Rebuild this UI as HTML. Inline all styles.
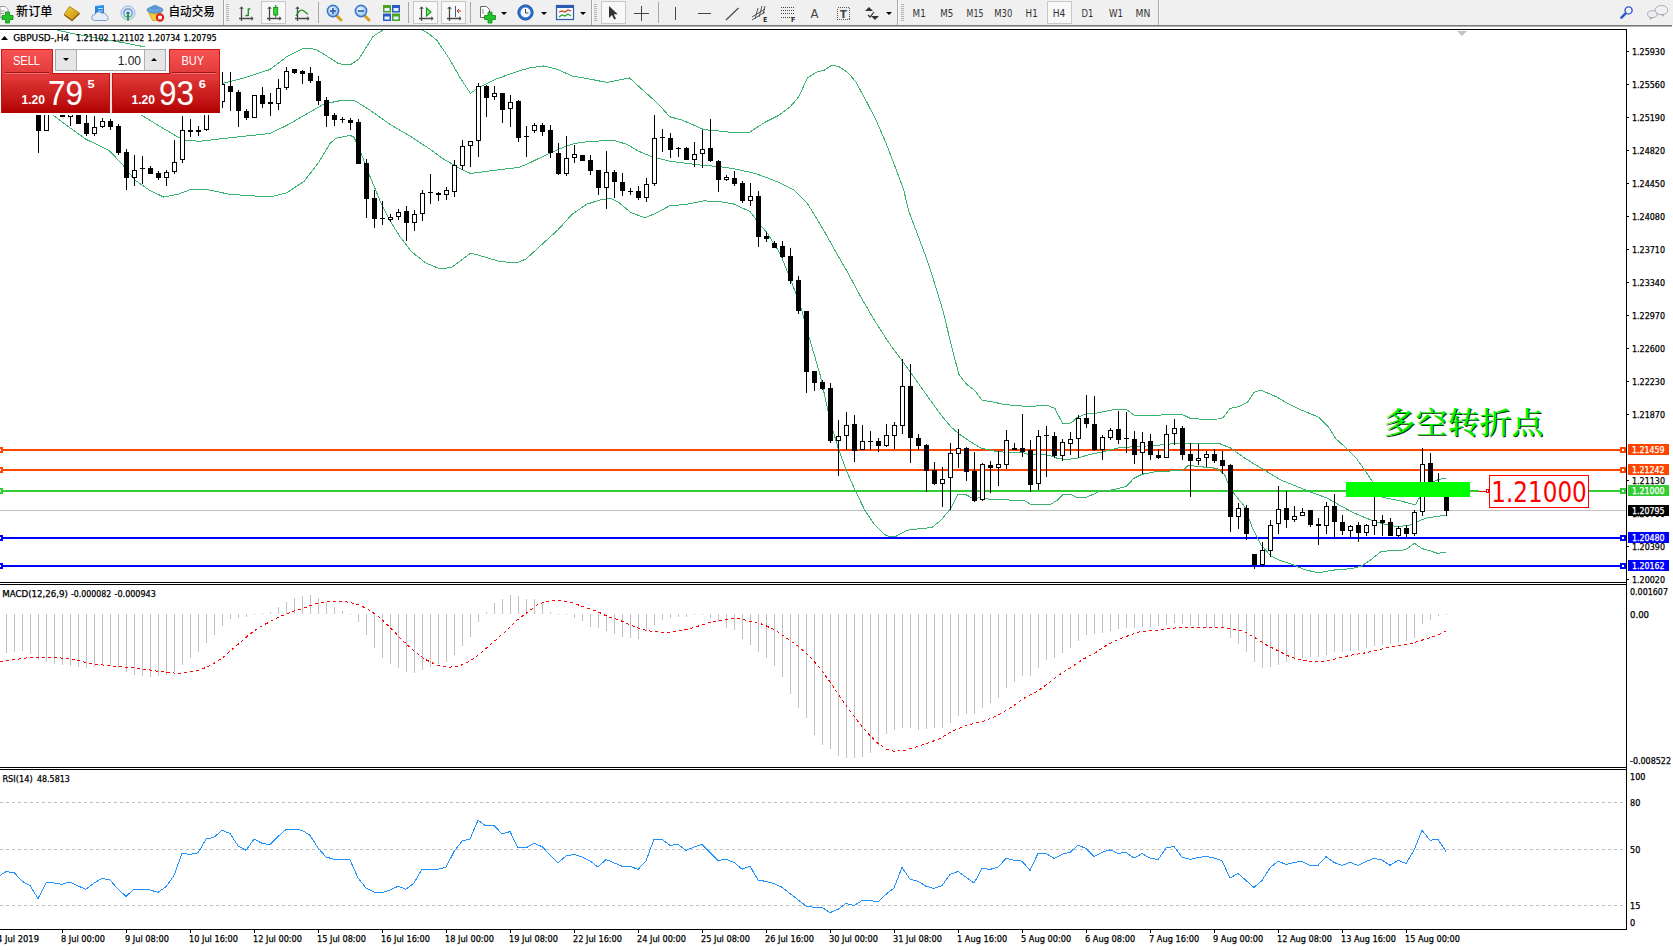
<!DOCTYPE html>
<html lang="zh"><head><meta charset="utf-8"><title>GBPUSD-,H4</title>
<style>html,body{margin:0;padding:0;background:#fff;overflow:hidden}body{width:1673px;height:950px;position:relative;font-family:"DejaVu Sans Condensed", "DejaVu Sans", "Liberation Sans", sans-serif}svg text{white-space:pre}</style>
</head><body>
<svg width="1673" height="950" viewBox="0 0 1673 950" font-family='"DejaVu Sans Condensed", "DejaVu Sans", "Liberation Sans", sans-serif' style="position:absolute;left:0;top:0;display:block">
<defs>
<linearGradient id="gT" x1="0" y1="0" x2="0" y2="1"><stop offset="0" stop-color="#f75252"/><stop offset="1" stop-color="#dc3434"/></linearGradient>
<linearGradient id="gT2" x1="0" y1="0" x2="0" y2="1"><stop offset="0" stop-color="#f75252"/><stop offset="0.8" stop-color="#e23a3a"/><stop offset="1" stop-color="#e03838"/></linearGradient>
<linearGradient id="gB" x1="0" y1="0" x2="0" y2="1"><stop offset="0" stop-color="#e23a3a"/><stop offset="0.75" stop-color="#c01212"/><stop offset="1" stop-color="#b00000"/></linearGradient>
<linearGradient id="gGold" x1="0" y1="0" x2="1" y2="1"><stop offset="0" stop-color="#f7d038"/><stop offset="1" stop-color="#c08a10"/></linearGradient>
<linearGradient id="gBlue" x1="0" y1="0" x2="0" y2="1"><stop offset="0" stop-color="#2f9bf0"/><stop offset="1" stop-color="#1668c8"/></linearGradient>
<radialGradient id="gLens" cx="0.4" cy="0.35" r="0.7"><stop offset="0" stop-color="#eaf4ff"/><stop offset="1" stop-color="#8fc0ee"/></radialGradient>
<clipPath id="cMain"><rect x="0" y="30" width="1626" height="552"/></clipPath>
</defs>
<rect x="0" y="0" width="1673" height="950" fill="#fff" />
<rect x="0" y="0" width="1673" height="25" fill="#f0f0f0" />
<rect x="0" y="25" width="1672" height="1" fill="#7a7a7a" />
<rect x="0" y="26" width="1672" height="1" fill="#b0b0b0" />
<path d="M0 6.5h5l3 3v8H0z" fill="#fdfdfd" stroke="#9a9a9a" stroke-width="1"/><path d="M0 11h5M0 13.5h4" stroke="#9a9a9a" stroke-width="1"/>
<path d="M5.5 12h4v3.5h3.5v4h-3.5v3.5h-4v-3.5h-3.5v-4h3.5z" fill="#22c42a" stroke="#0c8a14" stroke-width="0.8"/>
<text x="16" y="16" font-size="12" font-weight="500" fill="#000" font-family='"Liberation Sans", "Noto Sans CJK SC", "WenQuanYi Zen Hei", sans-serif' textLength="36.5" lengthAdjust="spacingAndGlyphs">新订单</text>
<path d="M69.5 6.5l10 6.5-7.5 7.5-8-6z" fill="url(#gGold)" stroke="#a87408" stroke-width="0.8"/><path d="M64.5 15l7.5 5.5 7.5-7" fill="none" stroke="#8a5c04" stroke-width="1.2"/>
<path d="M95 6l9-1v10h-9z" fill="url(#gBlue)"/><path d="M98 8.5h5M98 11h5" stroke="#bfe0ff" stroke-width="1"/>
<path d="M94.5 20.5a3 3 0 0 1 0.5-6a4 4 0 0 1 7-1.2a3.2 3.2 0 0 1 4.5 2.2a2.6 2.6 0 0 1-0.5 5z" fill="#e8eef8" stroke="#6f93c8" stroke-width="0.9"/>
<circle cx="128" cy="13" r="7" fill="#d6e6f4" stroke="#9fb9d6" stroke-width="1"/><circle cx="128" cy="13" r="4.2" fill="none" stroke="#5f8fc8" stroke-width="1.2"/><circle cx="128" cy="13" r="1.6" fill="#2a64c0"/><path d="M128 13v7.5" stroke="#28a428" stroke-width="2"/>
<ellipse cx="155" cy="10" rx="8" ry="3.2" fill="#6aa4dc" stroke="#3f78b8" stroke-width="0.8"/><path d="M150.5 9.5a4.5 4.5 0 0 1 9 0z" fill="#5b98d6"/><path d="M148.5 12.5c3 2 10 2 13 0l-4.5 8h-4.5z" fill="#f2cc3e" stroke="#c29a18" stroke-width="0.7"/>
<circle cx="160" cy="17.5" r="4.2" fill="#e02018"/><rect x="158.2" y="15.7" width="3.6" height="3.6" fill="#fff"/>
<text x="168.5" y="16" font-size="12" font-weight="500" fill="#000" font-family='"Liberation Sans", "Noto Sans CJK SC", "WenQuanYi Zen Hei", sans-serif' textLength="46.5" lengthAdjust="spacingAndGlyphs">自动交易</text>
<rect x="223" y="0" width="1" height="25" fill="#a8a8a8" shape-rendering="crispEdges"/><rect x="224" y="0" width="1" height="25" fill="#fafafa" shape-rendering="crispEdges"/>
<rect x="226" y="4" width="3" height="1" fill="#b4b4b4" shape-rendering="crispEdges"/>
<rect x="226" y="6" width="3" height="1" fill="#b4b4b4" shape-rendering="crispEdges"/>
<rect x="226" y="8" width="3" height="1" fill="#b4b4b4" shape-rendering="crispEdges"/>
<rect x="226" y="10" width="3" height="1" fill="#b4b4b4" shape-rendering="crispEdges"/>
<rect x="226" y="12" width="3" height="1" fill="#b4b4b4" shape-rendering="crispEdges"/>
<rect x="226" y="14" width="3" height="1" fill="#b4b4b4" shape-rendering="crispEdges"/>
<rect x="226" y="16" width="3" height="1" fill="#b4b4b4" shape-rendering="crispEdges"/>
<rect x="226" y="18" width="3" height="1" fill="#b4b4b4" shape-rendering="crispEdges"/>
<rect x="226" y="20" width="3" height="1" fill="#b4b4b4" shape-rendering="crispEdges"/>
<path d="M241.5 7V21M239 18.5H253" stroke="#4a4a4a" stroke-width="1.3" fill="none"/><path d="M239.8 9l1.7-2.2 1.7 2.2M251 16.8l2.2 1.7-2.2 1.7" stroke="#4a4a4a" stroke-width="1" fill="none"/>
<path d="M248.3 8.5v7.5M248.3 9h2M245.5 15.5h2.8" stroke="#1c8c1c" stroke-width="1.3" fill="none"/>
<rect x="261.5" y="1.5" width="24" height="22" fill="#f8f8f8" stroke="#c8c8c8" stroke-width="1"/>
<path d="M269.5 7V21M267 18.5H281" stroke="#4a4a4a" stroke-width="1.3" fill="none"/><path d="M267.8 9l1.7-2.2 1.7 2.2M279 16.8l2.2 1.7-2.2 1.7" stroke="#4a4a4a" stroke-width="1" fill="none"/>
<path d="M275.7 5v12.5" stroke="#1c8c1c" stroke-width="1.2"/><rect x="273.7" y="7.5" width="4" height="7.5" fill="#38d838" stroke="#0e8e0e" stroke-width="0.9"/>
<path d="M297.5 7V21M295 18.5H309" stroke="#4a4a4a" stroke-width="1.3" fill="none"/><path d="M295.8 9l1.7-2.2 1.7 2.2M307 16.8l2.2 1.7-2.2 1.7" stroke="#4a4a4a" stroke-width="1" fill="none"/>
<path d="M296 16c2-4 4.5-6.5 6.5-5.8s3.5 3 5.5 4" stroke="#1c8c1c" stroke-width="1.2" fill="none"/>
<rect x="318" y="2" width="1" height="21" fill="#a8a8a8" shape-rendering="crispEdges"/>
<path d="M336 15l5 5" stroke="#d8a020" stroke-width="3" stroke-linecap="round"/>
<circle cx="333" cy="11" r="5.6" fill="url(#gLens)" stroke="#3c78c8" stroke-width="1.6"/>
<path d="M330 11h6" stroke="#2a5cb0" stroke-width="1.6"/>
<path d="M333 8v6" stroke="#2a5cb0" stroke-width="1.6"/>
<path d="M364 15l5 5" stroke="#d8a020" stroke-width="3" stroke-linecap="round"/>
<circle cx="361" cy="11" r="5.6" fill="url(#gLens)" stroke="#3c78c8" stroke-width="1.6"/>
<path d="M358 11h6" stroke="#2a5cb0" stroke-width="1.6"/>
<rect x="383" y="5" width="8" height="7.5" fill="#4aa42a"/><rect x="384.5" y="8" width="5" height="3" fill="#e8f0ff"/>
<rect x="392" y="5" width="8" height="7.5" fill="#2a5cc8"/><rect x="393.5" y="8" width="5" height="3" fill="#e8f0ff"/>
<rect x="383" y="13.5" width="8" height="7.5" fill="#2a5cc8"/><rect x="384.5" y="16.5" width="5" height="3" fill="#e8f0ff"/>
<rect x="392" y="13.5" width="8" height="7.5" fill="#4aa42a"/><rect x="393.5" y="16.5" width="5" height="3" fill="#e8f0ff"/>
<rect x="408" y="2" width="1" height="21" fill="#a8a8a8" shape-rendering="crispEdges"/>
<rect x="413.5" y="1.5" width="24" height="22" fill="#f8f8f8" stroke="#c8c8c8" stroke-width="1"/>
<path d="M421.5 7V21M419 18.5H433" stroke="#4a4a4a" stroke-width="1.3" fill="none"/><path d="M419.8 9l1.7-2.2 1.7 2.2M431 16.8l2.2 1.7-2.2 1.7" stroke="#4a4a4a" stroke-width="1" fill="none"/>
<path d="M426.5 8l4.5 4-4.5 4z" fill="#8fe08f" stroke="#1c9c1c" stroke-width="1.2"/>
<rect x="441.5" y="1.5" width="24" height="22" fill="#f8f8f8" stroke="#c8c8c8" stroke-width="1"/>
<path d="M449.5 7V21M447 18.5H461" stroke="#4a4a4a" stroke-width="1.3" fill="none"/><path d="M447.8 9l1.7-2.2 1.7 2.2M459 16.8l2.2 1.7-2.2 1.7" stroke="#4a4a4a" stroke-width="1" fill="none"/>
<path d="M455.5 6v11" stroke="#2a5cb0" stroke-width="1"/><path d="M461 11h-4m2-2l-2 2 2 2" stroke="#d03010" stroke-width="1" fill="none"/>
<rect x="470" y="2" width="1" height="21" fill="#a8a8a8" shape-rendering="crispEdges"/>
<path d="M480.5 6.5h6l3 3v8h-9z" fill="#fff" stroke="#666" stroke-width="1"/><path d="M483 9v5" stroke="#888" stroke-width="1"/>
<path d="M488 12h4v3.5h3.5v4h-3.5v3.5h-4v-3.5h-3.5v-4h3.5z" fill="#22c42a" stroke="#0c8a14" stroke-width="0.8"/>
<polygon points="501,12 507,12 504,15" fill="#000"/>
<circle cx="525.5" cy="12.5" r="7.6" fill="#2a6ed0" stroke="#184a9a" stroke-width="1"/><circle cx="525.5" cy="12.5" r="5" fill="#f4f8ff"/><path d="M525.5 9v4h3" stroke="#444" stroke-width="1" fill="none"/>
<polygon points="541,12 547,12 544,15" fill="#000"/>
<rect x="556.5" y="5.5" width="17" height="14" fill="#f4f8ff" stroke="#2a5cb0" stroke-width="1.2"/><rect x="556" y="5" width="18" height="3" fill="#2a5cb0"/><path d="M559 12l3-1 3 1 3-2 3 1" stroke="#d04010" stroke-width="1.2" fill="none"/><path d="M559 17l3-2 3 1 3-2 3 2" stroke="#28a428" stroke-width="1.2" fill="none"/>
<polygon points="580,12 586,12 583,15" fill="#000"/>
<rect x="591" y="0" width="1" height="25" fill="#a8a8a8" shape-rendering="crispEdges"/><rect x="592" y="0" width="1" height="25" fill="#fafafa" shape-rendering="crispEdges"/>
<rect x="594" y="4" width="3" height="1" fill="#b4b4b4" shape-rendering="crispEdges"/>
<rect x="594" y="6" width="3" height="1" fill="#b4b4b4" shape-rendering="crispEdges"/>
<rect x="594" y="8" width="3" height="1" fill="#b4b4b4" shape-rendering="crispEdges"/>
<rect x="594" y="10" width="3" height="1" fill="#b4b4b4" shape-rendering="crispEdges"/>
<rect x="594" y="12" width="3" height="1" fill="#b4b4b4" shape-rendering="crispEdges"/>
<rect x="594" y="14" width="3" height="1" fill="#b4b4b4" shape-rendering="crispEdges"/>
<rect x="594" y="16" width="3" height="1" fill="#b4b4b4" shape-rendering="crispEdges"/>
<rect x="594" y="18" width="3" height="1" fill="#b4b4b4" shape-rendering="crispEdges"/>
<rect x="594" y="20" width="3" height="1" fill="#b4b4b4" shape-rendering="crispEdges"/>
<rect x="601.5" y="1.5" width="24" height="22" fill="#f8f8f8" stroke="#c8c8c8" stroke-width="1"/>
<path d="M609 6v12l3-3 2.2 4.6 1.8-0.9-2.2-4.4h4z" fill="#333"/>
<path d="M641.5 6v15M634 13.5h15" stroke="#444" stroke-width="1" shape-rendering="crispEdges"/>
<rect x="658" y="2" width="1" height="21" fill="#a8a8a8" shape-rendering="crispEdges"/>
<path d="M675.5 7v13" stroke="#444" stroke-width="1" shape-rendering="crispEdges"/>
<path d="M698 13.5h13" stroke="#444" stroke-width="1" shape-rendering="crispEdges"/>
<path d="M726 20l12.5-12" stroke="#444" stroke-width="1.1"/>
<path d="M752 17l13-8M752 20l13-8M755 19l3-11M759 17l3-11M763 14l2-8" stroke="#444" stroke-width="0.9" fill="none"/>
<text x="763" y="22" font-size="7" font-weight="700" fill="#333">E</text>
<path d="M781 7.5h13" stroke="#444" stroke-width="1" stroke-dasharray="1,1" shape-rendering="crispEdges"/>
<path d="M781 10.5h13" stroke="#444" stroke-width="1" stroke-dasharray="1,1" shape-rendering="crispEdges"/>
<path d="M781 13.5h13" stroke="#444" stroke-width="1" stroke-dasharray="1,1" shape-rendering="crispEdges"/>
<path d="M781 17.5h13" stroke="#444" stroke-width="1" stroke-dasharray="1,1" shape-rendering="crispEdges"/>
<text x="791" y="22" font-size="7" font-weight="700" fill="#333">F</text>
<text x="810.5" y="18" font-size="13" fill="#444">A</text>
<rect x="837.5" y="7.5" width="12" height="12" fill="none" stroke="#555" stroke-width="1" stroke-dasharray="1,1" shape-rendering="crispEdges"/><text x="840" y="18" font-size="11" font-weight="700" fill="#444">T</text>
<path d="M865 11l4-4 4 4zM871 16l4 4 4-4z" fill="#333"/><path d="M868 15l2 2 4-5" stroke="#333" stroke-width="1.2" fill="none"/>
<polygon points="886,12 892,12 889,15" fill="#000"/>
<rect x="897" y="0" width="1" height="25" fill="#a8a8a8" shape-rendering="crispEdges"/><rect x="898" y="0" width="1" height="25" fill="#fafafa" shape-rendering="crispEdges"/>
<rect x="901" y="4" width="3" height="1" fill="#b4b4b4" shape-rendering="crispEdges"/>
<rect x="901" y="6" width="3" height="1" fill="#b4b4b4" shape-rendering="crispEdges"/>
<rect x="901" y="8" width="3" height="1" fill="#b4b4b4" shape-rendering="crispEdges"/>
<rect x="901" y="10" width="3" height="1" fill="#b4b4b4" shape-rendering="crispEdges"/>
<rect x="901" y="12" width="3" height="1" fill="#b4b4b4" shape-rendering="crispEdges"/>
<rect x="901" y="14" width="3" height="1" fill="#b4b4b4" shape-rendering="crispEdges"/>
<rect x="901" y="16" width="3" height="1" fill="#b4b4b4" shape-rendering="crispEdges"/>
<rect x="901" y="18" width="3" height="1" fill="#b4b4b4" shape-rendering="crispEdges"/>
<rect x="901" y="20" width="3" height="1" fill="#b4b4b4" shape-rendering="crispEdges"/>
<rect x="1047.5" y="1.5" width="24" height="22" fill="#f8f8f8" stroke="#c8c8c8" stroke-width="1"/>
<text x="912.6" y="16.5" font-size="10" fill="#333" textLength="13.1" lengthAdjust="spacingAndGlyphs">M1</text>
<text x="940.3" y="16.5" font-size="10" fill="#333" textLength="13.0" lengthAdjust="spacingAndGlyphs">M5</text>
<text x="966.6" y="16.5" font-size="10" fill="#333" textLength="16.8" lengthAdjust="spacingAndGlyphs">M15</text>
<text x="994.2" y="16.5" font-size="10" fill="#333" textLength="18.1" lengthAdjust="spacingAndGlyphs">M30</text>
<text x="1025.6" y="16.5" font-size="10" fill="#333" textLength="12.1" lengthAdjust="spacingAndGlyphs">H1</text>
<text x="1052.7" y="16.5" font-size="10" fill="#333" textLength="12.6" lengthAdjust="spacingAndGlyphs">H4</text>
<text x="1081.6" y="16.5" font-size="10" fill="#333" textLength="11.8" lengthAdjust="spacingAndGlyphs">D1</text>
<text x="1109" y="16.5" font-size="10" fill="#333" textLength="14.0" lengthAdjust="spacingAndGlyphs">W1</text>
<text x="1135.6" y="16.5" font-size="10" fill="#333" textLength="14.8" lengthAdjust="spacingAndGlyphs">MN</text>
<rect x="1158" y="0" width="1" height="25" fill="#a8a8a8" shape-rendering="crispEdges"/><rect x="1159" y="0" width="1" height="25" fill="#fafafa" shape-rendering="crispEdges"/>
<path d="M1621.4 17.6l4-4" stroke="#2a5cc8" stroke-width="2.6" stroke-linecap="round"/><circle cx="1628.6" cy="10.4" r="3.5" fill="#f4f6fc" stroke="#2456c8" stroke-width="1.4"/>
<ellipse cx="1661.4" cy="10.1" rx="6.4" ry="4.6" fill="#f2f2f4" stroke="#a4a4a4" stroke-width="0.9"/><path d="M1663 14.3l1.6 2.6-3.6-2.2z" fill="#9a9a9a"/><ellipse cx="1652.3" cy="14.2" rx="4.8" ry="3.6" fill="#ececf0" stroke="#a4a4a4" stroke-width="0.9"/><path d="M1650.4 17.3l-0.8 2.6 3-2.2z" fill="#9a9a9a"/>
<g shape-rendering="crispEdges">
<rect x="0" y="29" width="1627" height="1" fill="#000" />
<rect x="1626" y="29" width="1" height="901" fill="#000" />
<rect x="0" y="582" width="1627" height="1" fill="#000" />
<rect x="0" y="584" width="1627" height="1" fill="#000" />
<rect x="0" y="767" width="1627" height="1" fill="#000" />
<rect x="0" y="769" width="1627" height="1" fill="#000" />
<rect x="0" y="929" width="1627" height="1" fill="#000" />
</g>
<g clip-path="url(#cMain)">
<g shape-rendering="crispEdges">
<rect x="0" y="510" width="1626" height="1" fill="#c0c0c0" />
<rect x="0" y="449" width="1622" height="2" fill="#ff4500" />
<rect x="0" y="447" width="3" height="6" fill="#ff4500" />
<rect x="0" y="449" width="1" height="2" fill="#fff" />
<rect x="1620" y="447" width="6" height="6" fill="#ff4500" />
<rect x="1622" y="449" width="2" height="2" fill="#fff" />
<rect x="0" y="469" width="1622" height="2" fill="#ff4500" />
<rect x="0" y="467" width="3" height="6" fill="#ff4500" />
<rect x="0" y="469" width="1" height="2" fill="#fff" />
<rect x="1620" y="467" width="6" height="6" fill="#ff4500" />
<rect x="1622" y="469" width="2" height="2" fill="#fff" />
<rect x="0" y="490" width="1622" height="2" fill="#32cd32" />
<rect x="0" y="488" width="3" height="6" fill="#32cd32" />
<rect x="0" y="490" width="1" height="2" fill="#fff" />
<rect x="1620" y="488" width="6" height="6" fill="#32cd32" />
<rect x="1622" y="490" width="2" height="2" fill="#fff" />
<rect x="0" y="537" width="1622" height="2" fill="#0000ff" />
<rect x="0" y="535" width="3" height="6" fill="#0000ff" />
<rect x="0" y="537" width="1" height="2" fill="#fff" />
<rect x="1620" y="535" width="6" height="6" fill="#0000ff" />
<rect x="1622" y="537" width="2" height="2" fill="#fff" />
<rect x="0" y="565" width="1622" height="2" fill="#0000ff" />
<rect x="0" y="563" width="3" height="6" fill="#0000ff" />
<rect x="0" y="565" width="1" height="2" fill="#fff" />
<rect x="1620" y="563" width="6" height="6" fill="#0000ff" />
<rect x="1622" y="565" width="2" height="2" fill="#fff" />
</g>
<polyline fill="none" stroke="#3cb371" stroke-width="1" shape-rendering="crispEdges"  points="52,29 75,34 100,38.5 125,43 143,46.5 160,52 180,62 200,73 221,83.8 244,78 270,69.5 287,56.5 304,48 316,49.4 330,58 338.5,63.7 350,65 358.6,59.4 373,36.5 384.5,29"/>
<polyline fill="none" stroke="#3cb371" stroke-width="1" shape-rendering="crispEdges"  points="420,29 428.7,33.6 437.3,40.8 448.8,58 460.3,78 470.3,93.3 480.3,86.7 494.7,79.5 514.8,72.3 529,68 543.5,66 557.8,69.5 572,76 589.4,79 606.6,82.4 629.5,78 643.9,91 658.2,103.9 669.7,116.8 681.2,119.7 692.6,124.6 704,129.7 715.6,130.6 732.8,132.6 750,132 764.4,122.6 778.7,115.4 790.2,106.8 798.8,96.7 807.4,78 816,72.3 824.6,70 831.8,65.2 839,66.6 847.6,72.3 856.2,82.4 867.7,103.9 876,120 886,143 894.8,166 903.4,188.9 909,211.8 917.7,234.8 926.3,257.7 932,275 936.7,290 942.7,310 948.7,334.3 954.7,358.4 958.8,374.4 966.8,384.5 974.8,390.5 981.8,400 992.9,402 1005,404.6 1017,405.6 1029,406.6 1041,405.6 1049,406 1055,408.6 1059,416.6 1063,423.6 1069,423.6 1073,421.6 1077,417.6 1085,414.2 1097,413 1112,410 1126,409 1134,415 1150,416 1166.3,414.5 1182.3,414.5 1190,418.2 1203.9,419.4 1217.7,419 1223,417.7 1229.9,408.5 1238.5,406.7 1247.2,402.6 1254,392.5 1261,390 1266.3,392.5 1276.7,396.9 1287,403 1301,409.9 1318.3,417 1328.7,427.2 1335.6,438.5 1346,448 1356.4,458.4 1365,470.5 1372,481 1377,490 1382.4,497.4 1398,500.3 1415.3,504.9 1418.8,499 1422,492 1427,485 1432.7,481.8 1439.6,479.2 1446,478.3"/>
<polyline fill="none" stroke="#3cb371" stroke-width="1" shape-rendering="crispEdges"  points="100,96 120,104 142,115.4 160.7,126.9 177.9,136.9 186.5,140.6 200.8,141.2 229.5,137.8 269.7,133.5 286.9,125.4 304,115.4 324.2,103.9 338.5,101 350,100.2 356,101.2 370,110.2 390,124.3 410.3,136.3 430.4,149.4 442.5,158.4 454.5,165.4 462.6,170 470.6,173.5 482.6,171.9 500.7,169.5 518.8,167.5 530.8,162.4 542.9,156.4 550.9,152.8 563,147.4 575,143.4 587,141.7 601,140.9 615,140.7 627,144.4 639,151.4 651,156.4 669.7,161.3 686.9,163.3 704,165.6 715.6,166.2 732.8,168.5 755.8,173.6 773,180 780,183 794.3,190.3 807.3,203.2 823,229 837.4,254.8 846.3,270 860.3,296 874.4,320.2 888.5,342.3 900.5,358.4 910.5,372.4 920.6,386.5 930.6,400.6 940.7,414.6 950.7,426.7 958.8,433.7 968.8,440.7 980.8,448 995,451.2 1011,452.8 1021,452.2 1031,455.2 1041,454.2 1049,455.2 1057,458.2 1067,459.6 1077,458.2 1089.3,454.6 1101.3,452.2 1109.4,450.2 1120,447.5 1140,446.5 1160,445 1175,443.5 1188,443 1220.5,444 1230.5,448 1244.6,458 1260.7,468 1280.8,480 1300.8,488 1313,493 1327,498 1341,506 1353,512.5 1367,518.5 1381,523.5 1397,526.5 1409,525.5 1417,521.7 1425.7,518.2 1436,516.5 1446,515.3"/>
<polyline fill="none" stroke="#3cb371" stroke-width="1" shape-rendering="crispEdges"  points="40,105 52.6,114.7 68.9,127 86,139.3 109,150.3 123.4,165.6 134.8,180 149.2,190 163.5,197 177.9,194.3 189.4,190 206.6,189.4 229.5,194.3 269.7,197 286.9,192.8 304,181.4 318.5,162.7 330,143.4 336,138.3 350,135.3 354,137.3 360,150.4 370,176.5 380,200.6 390,220.7 400,236.7 411.5,251.7 425.8,263 440,268.9 451.6,267.4 463,258.8 471,253 486,257.4 500.4,261.7 517.6,262.6 526.2,258.8 543.5,243 557.8,230 572,214.4 586.5,204.3 601,199.6 611,198.6 619,202.6 631,212.6 645,217.7 655,213.6 669.7,205.8 686.9,204.3 704,200.9 718.5,201.5 732.8,203.7 750,211.5 758.6,223 767.2,233 780,253.4 790,278 800,304 810,340.3 820,374.4 828,410.6 832.2,428 838.2,448.2 846.3,470.3 854.3,488.4 864.4,509.5 874.4,524.5 884.4,534.6 889.5,536.6 895.5,536.6 904.5,531.6 910.5,529.5 924.6,528.5 932.6,527 940.7,520.5 950.7,508.5 957.7,494.4 964.8,494 972.8,498.4 980.8,497.8 992.9,499.8 1009,500 1025,501 1031,504.4 1041,504.8 1051,504 1057,500.4 1063,494.4 1071,494.4 1077,497.4 1085,497.8 1093,494.4 1099,491.4 1109,490.4 1114,489.4 1126,486.4 1134,478.3 1142,474.3 1158,471.3 1182.3,470.7 1188.4,465.3 1196.4,466.3 1216.5,468.3 1224.5,474.3 1228.5,484.4 1234.6,494.4 1244.6,506.4 1252.6,528.5 1260.7,544.6 1270.7,555.7 1280.8,560.7 1292.8,564.7 1304.9,569.7 1319,573 1329,570.7 1337,569.7 1351,568.7 1361,566.3 1371,559.7 1381,551.6 1391,550.6 1401.3,550.6 1407.3,548.6 1414.5,543.4 1422,548.6 1429.4,550.6 1437.7,553.4 1446,552"/>
<g shape-rendering="crispEdges">
<rect x="38" y="100" width="1" height="53" fill="#000" />
<rect x="36" y="105" width="5" height="26" fill="#000" />
<rect x="46" y="100" width="1" height="31" fill="#000" />
<rect x="44" y="104" width="5" height="27" fill="#000" />
<rect x="45" y="105" width="3" height="25" fill="#fff" />
<rect x="62" y="108" width="1" height="9" fill="#000" />
<rect x="60" y="108" width="5" height="9" fill="#000" />
<rect x="70" y="108" width="1" height="18" fill="#000" />
<rect x="68" y="108" width="5" height="9" fill="#000" />
<rect x="69" y="109" width="3" height="7" fill="#fff" />
<rect x="78" y="105" width="1" height="19" fill="#000" />
<rect x="76" y="105" width="5" height="19" fill="#000" />
<rect x="86" y="115" width="1" height="21" fill="#000" />
<rect x="84" y="123" width="5" height="11" fill="#000" />
<rect x="94" y="116" width="1" height="20" fill="#000" />
<rect x="92" y="127" width="5" height="7" fill="#000" />
<rect x="93" y="128" width="3" height="5" fill="#fff" />
<rect x="102" y="118" width="1" height="10" fill="#000" />
<rect x="100" y="121" width="5" height="6" fill="#000" />
<rect x="101" y="122" width="3" height="4" fill="#fff" />
<rect x="110" y="119" width="1" height="11" fill="#000" />
<rect x="108" y="121" width="5" height="6" fill="#000" />
<rect x="118" y="124" width="1" height="31" fill="#000" />
<rect x="116" y="126" width="5" height="27" fill="#000" />
<rect x="126" y="149" width="1" height="41" fill="#000" />
<rect x="124" y="152" width="5" height="26" fill="#000" />
<rect x="134" y="155" width="1" height="31" fill="#000" />
<rect x="132" y="170" width="5" height="8" fill="#000" />
<rect x="133" y="171" width="3" height="6" fill="#fff" />
<rect x="142" y="156" width="1" height="28" fill="#000" />
<rect x="140" y="168" width="5" height="1" fill="#000" />
<rect x="150" y="166" width="1" height="8" fill="#000" />
<rect x="148" y="168" width="5" height="6" fill="#000" />
<rect x="158" y="171" width="1" height="9" fill="#000" />
<rect x="156" y="173" width="5" height="5" fill="#000" />
<rect x="166" y="170" width="1" height="16" fill="#000" />
<rect x="164" y="172" width="5" height="6" fill="#000" />
<rect x="165" y="173" width="3" height="4" fill="#fff" />
<rect x="174" y="140" width="1" height="34" fill="#000" />
<rect x="172" y="162" width="5" height="10" fill="#000" />
<rect x="173" y="163" width="3" height="8" fill="#fff" />
<rect x="182" y="116" width="1" height="47" fill="#000" />
<rect x="180" y="130" width="5" height="30" fill="#000" />
<rect x="181" y="131" width="3" height="28" fill="#fff" />
<rect x="190" y="119" width="1" height="18" fill="#000" />
<rect x="188" y="130" width="5" height="2" fill="#000" />
<rect x="198" y="126" width="1" height="10" fill="#000" />
<rect x="196" y="130" width="5" height="2" fill="#000" />
<rect x="206" y="100" width="1" height="31" fill="#000" />
<rect x="204" y="105" width="5" height="25" fill="#000" />
<rect x="205" y="106" width="3" height="23" fill="#fff" />
<rect x="222" y="72" width="1" height="36" fill="#000" />
<rect x="220" y="84" width="5" height="18" fill="#000" />
<rect x="221" y="85" width="3" height="16" fill="#fff" />
<rect x="230" y="72" width="1" height="39" fill="#000" />
<rect x="228" y="86" width="5" height="6" fill="#000" />
<rect x="238" y="90" width="1" height="37" fill="#000" />
<rect x="236" y="92" width="5" height="19" fill="#000" />
<rect x="246" y="109" width="1" height="11" fill="#000" />
<rect x="244" y="111" width="5" height="7" fill="#000" />
<rect x="254" y="95" width="1" height="23" fill="#000" />
<rect x="252" y="95" width="5" height="23" fill="#000" />
<rect x="253" y="96" width="3" height="21" fill="#fff" />
<rect x="262" y="87" width="1" height="21" fill="#000" />
<rect x="260" y="95" width="5" height="9" fill="#000" />
<rect x="270" y="93" width="1" height="23" fill="#000" />
<rect x="268" y="102" width="5" height="2" fill="#000" />
<rect x="278" y="79" width="1" height="31" fill="#000" />
<rect x="276" y="88" width="5" height="16" fill="#000" />
<rect x="277" y="89" width="3" height="14" fill="#fff" />
<rect x="286" y="67" width="1" height="23" fill="#000" />
<rect x="284" y="71" width="5" height="17" fill="#000" />
<rect x="285" y="72" width="3" height="15" fill="#fff" />
<rect x="294" y="69" width="1" height="5" fill="#000" />
<rect x="292" y="69" width="5" height="4" fill="#000" />
<rect x="302" y="70" width="1" height="14" fill="#000" />
<rect x="300" y="71" width="5" height="3" fill="#000" />
<rect x="310" y="67" width="1" height="16" fill="#000" />
<rect x="308" y="73" width="5" height="8" fill="#000" />
<rect x="318" y="76" width="1" height="29" fill="#000" />
<rect x="316" y="81" width="5" height="20" fill="#000" />
<rect x="326" y="97" width="1" height="30" fill="#000" />
<rect x="324" y="100" width="5" height="16" fill="#000" />
<rect x="334" y="113" width="1" height="13" fill="#000" />
<rect x="332" y="115" width="5" height="5" fill="#000" />
<rect x="342" y="117" width="1" height="6" fill="#000" />
<rect x="340" y="119" width="5" height="1" fill="#000" />
<rect x="350" y="118" width="1" height="12" fill="#000" />
<rect x="348" y="120" width="5" height="3" fill="#000" />
<rect x="358" y="119" width="1" height="45" fill="#000" />
<rect x="356" y="122" width="5" height="42" fill="#000" />
<rect x="366" y="159" width="1" height="59" fill="#000" />
<rect x="364" y="163" width="5" height="36" fill="#000" />
<rect x="374" y="190" width="1" height="38" fill="#000" />
<rect x="372" y="198" width="5" height="21" fill="#000" />
<rect x="382" y="201" width="1" height="24" fill="#000" />
<rect x="380" y="218" width="5" height="1" fill="#000" />
<rect x="390" y="214" width="1" height="8" fill="#000" />
<rect x="388" y="217" width="5" height="3" fill="#000" />
<rect x="389" y="218" width="3" height="1" fill="#fff" />
<rect x="398" y="209" width="1" height="11" fill="#000" />
<rect x="396" y="212" width="5" height="5" fill="#000" />
<rect x="397" y="213" width="3" height="3" fill="#fff" />
<rect x="406" y="206" width="1" height="35" fill="#000" />
<rect x="404" y="211" width="5" height="12" fill="#000" />
<rect x="414" y="210" width="1" height="21" fill="#000" />
<rect x="412" y="214" width="5" height="9" fill="#000" />
<rect x="413" y="215" width="3" height="7" fill="#fff" />
<rect x="422" y="190" width="1" height="31" fill="#000" />
<rect x="420" y="193" width="5" height="21" fill="#000" />
<rect x="421" y="194" width="3" height="19" fill="#fff" />
<rect x="430" y="174" width="1" height="30" fill="#000" />
<rect x="428" y="192" width="5" height="1" fill="#000" />
<rect x="438" y="192" width="1" height="9" fill="#000" />
<rect x="436" y="193" width="5" height="2" fill="#000" />
<rect x="446" y="187" width="1" height="13" fill="#000" />
<rect x="444" y="190" width="5" height="5" fill="#000" />
<rect x="445" y="191" width="3" height="3" fill="#fff" />
<rect x="454" y="160" width="1" height="37" fill="#000" />
<rect x="452" y="165" width="5" height="27" fill="#000" />
<rect x="453" y="166" width="3" height="25" fill="#fff" />
<rect x="462" y="140" width="1" height="30" fill="#000" />
<rect x="460" y="146" width="5" height="20" fill="#000" />
<rect x="461" y="147" width="3" height="18" fill="#fff" />
<rect x="470" y="141" width="1" height="26" fill="#000" />
<rect x="468" y="141" width="5" height="5" fill="#000" />
<rect x="469" y="142" width="3" height="3" fill="#fff" />
<rect x="478" y="83" width="1" height="74" fill="#000" />
<rect x="476" y="86" width="5" height="55" fill="#000" />
<rect x="477" y="87" width="3" height="53" fill="#fff" />
<rect x="486" y="85" width="1" height="32" fill="#000" />
<rect x="484" y="86" width="5" height="12" fill="#000" />
<rect x="494" y="86" width="1" height="14" fill="#000" />
<rect x="492" y="93" width="5" height="4" fill="#000" />
<rect x="493" y="94" width="3" height="2" fill="#fff" />
<rect x="502" y="93" width="1" height="30" fill="#000" />
<rect x="500" y="93" width="5" height="17" fill="#000" />
<rect x="510" y="95" width="1" height="32" fill="#000" />
<rect x="508" y="102" width="5" height="7" fill="#000" />
<rect x="509" y="103" width="3" height="5" fill="#fff" />
<rect x="518" y="100" width="1" height="42" fill="#000" />
<rect x="516" y="101" width="5" height="37" fill="#000" />
<rect x="526" y="126" width="1" height="31" fill="#000" />
<rect x="524" y="136" width="5" height="1" fill="#000" />
<rect x="534" y="123" width="1" height="10" fill="#000" />
<rect x="532" y="125" width="5" height="6" fill="#000" />
<rect x="533" y="126" width="3" height="4" fill="#fff" />
<rect x="542" y="123" width="1" height="13" fill="#000" />
<rect x="540" y="125" width="5" height="7" fill="#000" />
<rect x="550" y="125" width="1" height="33" fill="#000" />
<rect x="548" y="130" width="5" height="23" fill="#000" />
<rect x="558" y="143" width="1" height="32" fill="#000" />
<rect x="556" y="153" width="5" height="21" fill="#000" />
<rect x="566" y="136" width="1" height="40" fill="#000" />
<rect x="564" y="158" width="5" height="16" fill="#000" />
<rect x="565" y="159" width="3" height="14" fill="#fff" />
<rect x="574" y="145" width="1" height="18" fill="#000" />
<rect x="572" y="154" width="5" height="4" fill="#000" />
<rect x="573" y="155" width="3" height="2" fill="#fff" />
<rect x="582" y="155" width="1" height="6" fill="#000" />
<rect x="580" y="155" width="5" height="6" fill="#000" />
<rect x="590" y="155" width="1" height="20" fill="#000" />
<rect x="588" y="160" width="5" height="11" fill="#000" />
<rect x="598" y="170" width="1" height="25" fill="#000" />
<rect x="596" y="170" width="5" height="18" fill="#000" />
<rect x="606" y="151" width="1" height="58" fill="#000" />
<rect x="604" y="172" width="5" height="16" fill="#000" />
<rect x="605" y="173" width="3" height="14" fill="#fff" />
<rect x="614" y="170" width="1" height="28" fill="#000" />
<rect x="612" y="172" width="5" height="10" fill="#000" />
<rect x="622" y="173" width="1" height="23" fill="#000" />
<rect x="620" y="182" width="5" height="9" fill="#000" />
<rect x="630" y="188" width="1" height="7" fill="#000" />
<rect x="628" y="191" width="5" height="1" fill="#000" />
<rect x="638" y="186" width="1" height="14" fill="#000" />
<rect x="636" y="191" width="5" height="7" fill="#000" />
<rect x="646" y="178" width="1" height="24" fill="#000" />
<rect x="644" y="184" width="5" height="14" fill="#000" />
<rect x="645" y="185" width="3" height="12" fill="#fff" />
<rect x="654" y="115" width="1" height="71" fill="#000" />
<rect x="652" y="138" width="5" height="46" fill="#000" />
<rect x="653" y="139" width="3" height="44" fill="#fff" />
<rect x="662" y="129" width="1" height="23" fill="#000" />
<rect x="660" y="137" width="5" height="1" fill="#000" />
<rect x="670" y="133" width="1" height="25" fill="#000" />
<rect x="668" y="138" width="5" height="12" fill="#000" />
<rect x="678" y="147" width="1" height="10" fill="#000" />
<rect x="676" y="148" width="5" height="1" fill="#000" />
<rect x="686" y="147" width="1" height="13" fill="#000" />
<rect x="684" y="148" width="5" height="12" fill="#000" />
<rect x="694" y="142" width="1" height="25" fill="#000" />
<rect x="692" y="154" width="5" height="6" fill="#000" />
<rect x="693" y="155" width="3" height="4" fill="#fff" />
<rect x="702" y="130" width="1" height="38" fill="#000" />
<rect x="700" y="149" width="5" height="5" fill="#000" />
<rect x="701" y="150" width="3" height="3" fill="#fff" />
<rect x="710" y="119" width="1" height="43" fill="#000" />
<rect x="708" y="148" width="5" height="13" fill="#000" />
<rect x="718" y="160" width="1" height="32" fill="#000" />
<rect x="716" y="161" width="5" height="19" fill="#000" />
<rect x="726" y="175" width="1" height="6" fill="#000" />
<rect x="724" y="177" width="5" height="3" fill="#000" />
<rect x="725" y="178" width="3" height="1" fill="#fff" />
<rect x="734" y="171" width="1" height="15" fill="#000" />
<rect x="732" y="178" width="5" height="6" fill="#000" />
<rect x="742" y="181" width="1" height="22" fill="#000" />
<rect x="740" y="183" width="5" height="18" fill="#000" />
<rect x="750" y="183" width="1" height="23" fill="#000" />
<rect x="748" y="196" width="5" height="5" fill="#000" />
<rect x="749" y="197" width="3" height="3" fill="#fff" />
<rect x="758" y="191" width="1" height="56" fill="#000" />
<rect x="756" y="196" width="5" height="41" fill="#000" />
<rect x="766" y="232" width="1" height="10" fill="#000" />
<rect x="764" y="236" width="5" height="3" fill="#000" />
<rect x="774" y="241" width="1" height="7" fill="#000" />
<rect x="772" y="243" width="5" height="5" fill="#000" />
<rect x="782" y="241" width="1" height="17" fill="#000" />
<rect x="780" y="246" width="5" height="11" fill="#000" />
<rect x="790" y="248" width="1" height="36" fill="#000" />
<rect x="788" y="256" width="5" height="25" fill="#000" />
<rect x="798" y="276" width="1" height="38" fill="#000" />
<rect x="796" y="280" width="5" height="31" fill="#000" />
<rect x="806" y="311" width="1" height="82" fill="#000" />
<rect x="804" y="311" width="5" height="61" fill="#000" />
<rect x="814" y="371" width="1" height="20" fill="#000" />
<rect x="812" y="371" width="5" height="12" fill="#000" />
<rect x="822" y="380" width="1" height="10" fill="#000" />
<rect x="820" y="382" width="5" height="7" fill="#000" />
<rect x="830" y="383" width="1" height="60" fill="#000" />
<rect x="828" y="388" width="5" height="53" fill="#000" />
<rect x="838" y="420" width="1" height="56" fill="#000" />
<rect x="836" y="436" width="5" height="5" fill="#000" />
<rect x="837" y="437" width="3" height="3" fill="#fff" />
<rect x="846" y="412" width="1" height="38" fill="#000" />
<rect x="844" y="425" width="5" height="11" fill="#000" />
<rect x="845" y="426" width="3" height="9" fill="#fff" />
<rect x="854" y="415" width="1" height="47" fill="#000" />
<rect x="852" y="424" width="5" height="27" fill="#000" />
<rect x="862" y="425" width="1" height="25" fill="#000" />
<rect x="860" y="441" width="5" height="9" fill="#000" />
<rect x="861" y="442" width="3" height="7" fill="#fff" />
<rect x="870" y="431" width="1" height="19" fill="#000" />
<rect x="868" y="441" width="5" height="1" fill="#000" />
<rect x="878" y="438" width="1" height="14" fill="#000" />
<rect x="876" y="441" width="5" height="5" fill="#000" />
<rect x="886" y="424" width="1" height="23" fill="#000" />
<rect x="884" y="435" width="5" height="11" fill="#000" />
<rect x="885" y="436" width="3" height="9" fill="#fff" />
<rect x="894" y="422" width="1" height="27" fill="#000" />
<rect x="892" y="425" width="5" height="11" fill="#000" />
<rect x="893" y="426" width="3" height="9" fill="#fff" />
<rect x="902" y="359" width="1" height="75" fill="#000" />
<rect x="900" y="386" width="5" height="40" fill="#000" />
<rect x="901" y="387" width="3" height="38" fill="#fff" />
<rect x="910" y="364" width="1" height="99" fill="#000" />
<rect x="908" y="386" width="5" height="52" fill="#000" />
<rect x="918" y="434" width="1" height="16" fill="#000" />
<rect x="916" y="438" width="5" height="8" fill="#000" />
<rect x="926" y="444" width="1" height="48" fill="#000" />
<rect x="924" y="445" width="5" height="26" fill="#000" />
<rect x="934" y="462" width="1" height="23" fill="#000" />
<rect x="932" y="470" width="5" height="14" fill="#000" />
<rect x="942" y="467" width="1" height="40" fill="#000" />
<rect x="940" y="479" width="5" height="5" fill="#000" />
<rect x="941" y="480" width="3" height="3" fill="#fff" />
<rect x="950" y="443" width="1" height="67" fill="#000" />
<rect x="948" y="453" width="5" height="25" fill="#000" />
<rect x="949" y="454" width="3" height="23" fill="#fff" />
<rect x="958" y="429" width="1" height="39" fill="#000" />
<rect x="956" y="448" width="5" height="6" fill="#000" />
<rect x="957" y="449" width="3" height="4" fill="#fff" />
<rect x="966" y="447" width="1" height="34" fill="#000" />
<rect x="964" y="448" width="5" height="24" fill="#000" />
<rect x="974" y="452" width="1" height="50" fill="#000" />
<rect x="972" y="471" width="5" height="30" fill="#000" />
<rect x="982" y="463" width="1" height="38" fill="#000" />
<rect x="980" y="464" width="5" height="36" fill="#000" />
<rect x="981" y="465" width="3" height="34" fill="#fff" />
<rect x="990" y="461" width="1" height="32" fill="#000" />
<rect x="988" y="465" width="5" height="3" fill="#000" />
<rect x="998" y="451" width="1" height="35" fill="#000" />
<rect x="996" y="464" width="5" height="4" fill="#000" />
<rect x="997" y="465" width="3" height="2" fill="#fff" />
<rect x="1006" y="430" width="1" height="39" fill="#000" />
<rect x="1004" y="440" width="5" height="25" fill="#000" />
<rect x="1005" y="441" width="3" height="23" fill="#fff" />
<rect x="1014" y="443" width="1" height="7" fill="#000" />
<rect x="1012" y="448" width="5" height="2" fill="#000" />
<rect x="1022" y="414" width="1" height="43" fill="#000" />
<rect x="1020" y="448" width="5" height="4" fill="#000" />
<rect x="1030" y="440" width="1" height="52" fill="#000" />
<rect x="1028" y="450" width="5" height="35" fill="#000" />
<rect x="1038" y="430" width="1" height="60" fill="#000" />
<rect x="1036" y="436" width="5" height="48" fill="#000" />
<rect x="1037" y="437" width="3" height="46" fill="#fff" />
<rect x="1046" y="426" width="1" height="51" fill="#000" />
<rect x="1044" y="435" width="5" height="1" fill="#000" />
<rect x="1054" y="432" width="1" height="26" fill="#000" />
<rect x="1052" y="436" width="5" height="20" fill="#000" />
<rect x="1062" y="439" width="1" height="22" fill="#000" />
<rect x="1060" y="442" width="5" height="14" fill="#000" />
<rect x="1061" y="443" width="3" height="12" fill="#fff" />
<rect x="1070" y="432" width="1" height="23" fill="#000" />
<rect x="1068" y="439" width="5" height="5" fill="#000" />
<rect x="1069" y="440" width="3" height="3" fill="#fff" />
<rect x="1078" y="415" width="1" height="43" fill="#000" />
<rect x="1076" y="418" width="5" height="21" fill="#000" />
<rect x="1077" y="419" width="3" height="19" fill="#fff" />
<rect x="1086" y="395" width="1" height="33" fill="#000" />
<rect x="1084" y="418" width="5" height="6" fill="#000" />
<rect x="1094" y="396" width="1" height="55" fill="#000" />
<rect x="1092" y="424" width="5" height="26" fill="#000" />
<rect x="1102" y="435" width="1" height="25" fill="#000" />
<rect x="1100" y="437" width="5" height="13" fill="#000" />
<rect x="1101" y="438" width="3" height="11" fill="#fff" />
<rect x="1110" y="428" width="1" height="12" fill="#000" />
<rect x="1108" y="430" width="5" height="8" fill="#000" />
<rect x="1109" y="431" width="3" height="6" fill="#fff" />
<rect x="1118" y="411" width="1" height="33" fill="#000" />
<rect x="1116" y="429" width="5" height="11" fill="#000" />
<rect x="1126" y="412" width="1" height="41" fill="#000" />
<rect x="1124" y="438" width="5" height="1" fill="#000" />
<rect x="1134" y="431" width="1" height="33" fill="#000" />
<rect x="1132" y="439" width="5" height="16" fill="#000" />
<rect x="1142" y="432" width="1" height="42" fill="#000" />
<rect x="1140" y="442" width="5" height="11" fill="#000" />
<rect x="1141" y="443" width="3" height="9" fill="#fff" />
<rect x="1150" y="434" width="1" height="26" fill="#000" />
<rect x="1148" y="441" width="5" height="14" fill="#000" />
<rect x="1158" y="449" width="1" height="10" fill="#000" />
<rect x="1156" y="455" width="5" height="3" fill="#000" />
<rect x="1166" y="425" width="1" height="33" fill="#000" />
<rect x="1164" y="434" width="5" height="24" fill="#000" />
<rect x="1165" y="435" width="3" height="22" fill="#fff" />
<rect x="1174" y="419" width="1" height="26" fill="#000" />
<rect x="1172" y="428" width="5" height="6" fill="#000" />
<rect x="1173" y="429" width="3" height="4" fill="#fff" />
<rect x="1182" y="426" width="1" height="34" fill="#000" />
<rect x="1180" y="428" width="5" height="27" fill="#000" />
<rect x="1190" y="443" width="1" height="54" fill="#000" />
<rect x="1188" y="454" width="5" height="7" fill="#000" />
<rect x="1198" y="444" width="1" height="21" fill="#000" />
<rect x="1196" y="458" width="5" height="3" fill="#000" />
<rect x="1197" y="459" width="3" height="1" fill="#fff" />
<rect x="1206" y="451" width="1" height="16" fill="#000" />
<rect x="1204" y="454" width="5" height="4" fill="#000" />
<rect x="1205" y="455" width="3" height="2" fill="#fff" />
<rect x="1214" y="449" width="1" height="14" fill="#000" />
<rect x="1212" y="454" width="5" height="7" fill="#000" />
<rect x="1222" y="451" width="1" height="23" fill="#000" />
<rect x="1220" y="460" width="5" height="6" fill="#000" />
<rect x="1230" y="464" width="1" height="68" fill="#000" />
<rect x="1228" y="465" width="5" height="52" fill="#000" />
<rect x="1238" y="503" width="1" height="26" fill="#000" />
<rect x="1236" y="508" width="5" height="9" fill="#000" />
<rect x="1237" y="509" width="3" height="7" fill="#fff" />
<rect x="1246" y="505" width="1" height="35" fill="#000" />
<rect x="1244" y="508" width="5" height="26" fill="#000" />
<rect x="1254" y="554" width="1" height="15" fill="#000" />
<rect x="1252" y="554" width="5" height="11" fill="#000" />
<rect x="1262" y="542" width="1" height="25" fill="#000" />
<rect x="1260" y="550" width="5" height="15" fill="#000" />
<rect x="1261" y="551" width="3" height="13" fill="#fff" />
<rect x="1270" y="520" width="1" height="37" fill="#000" />
<rect x="1268" y="525" width="5" height="26" fill="#000" />
<rect x="1269" y="526" width="3" height="24" fill="#fff" />
<rect x="1278" y="486" width="1" height="48" fill="#000" />
<rect x="1276" y="509" width="5" height="15" fill="#000" />
<rect x="1277" y="510" width="3" height="13" fill="#fff" />
<rect x="1286" y="491" width="1" height="37" fill="#000" />
<rect x="1284" y="508" width="5" height="12" fill="#000" />
<rect x="1294" y="506" width="1" height="16" fill="#000" />
<rect x="1292" y="516" width="5" height="4" fill="#000" />
<rect x="1293" y="517" width="3" height="2" fill="#fff" />
<rect x="1302" y="508" width="1" height="8" fill="#000" />
<rect x="1300" y="512" width="5" height="4" fill="#000" />
<rect x="1301" y="513" width="3" height="2" fill="#fff" />
<rect x="1310" y="510" width="1" height="17" fill="#000" />
<rect x="1308" y="510" width="5" height="15" fill="#000" />
<rect x="1318" y="518" width="1" height="27" fill="#000" />
<rect x="1316" y="524" width="5" height="2" fill="#000" />
<rect x="1326" y="502" width="1" height="32" fill="#000" />
<rect x="1324" y="506" width="5" height="20" fill="#000" />
<rect x="1325" y="507" width="3" height="18" fill="#fff" />
<rect x="1334" y="494" width="1" height="45" fill="#000" />
<rect x="1332" y="506" width="5" height="16" fill="#000" />
<rect x="1342" y="515" width="1" height="20" fill="#000" />
<rect x="1340" y="522" width="5" height="9" fill="#000" />
<rect x="1350" y="525" width="1" height="13" fill="#000" />
<rect x="1348" y="526" width="5" height="5" fill="#000" />
<rect x="1349" y="527" width="3" height="3" fill="#fff" />
<rect x="1358" y="522" width="1" height="20" fill="#000" />
<rect x="1356" y="525" width="5" height="8" fill="#000" />
<rect x="1366" y="524" width="1" height="12" fill="#000" />
<rect x="1364" y="525" width="5" height="8" fill="#000" />
<rect x="1365" y="526" width="3" height="6" fill="#fff" />
<rect x="1374" y="497" width="1" height="38" fill="#000" />
<rect x="1372" y="520" width="5" height="6" fill="#000" />
<rect x="1373" y="521" width="3" height="4" fill="#fff" />
<rect x="1382" y="515" width="1" height="21" fill="#000" />
<rect x="1380" y="520" width="5" height="3" fill="#000" />
<rect x="1390" y="518" width="1" height="18" fill="#000" />
<rect x="1388" y="522" width="5" height="14" fill="#000" />
<rect x="1398" y="526" width="1" height="11" fill="#000" />
<rect x="1396" y="528" width="5" height="8" fill="#000" />
<rect x="1397" y="529" width="3" height="6" fill="#fff" />
<rect x="1406" y="525" width="1" height="12" fill="#000" />
<rect x="1404" y="528" width="5" height="6" fill="#000" />
<rect x="1414" y="510" width="1" height="26" fill="#000" />
<rect x="1412" y="512" width="5" height="22" fill="#000" />
<rect x="1413" y="513" width="3" height="20" fill="#fff" />
<rect x="1422" y="448" width="1" height="68" fill="#000" />
<rect x="1420" y="464" width="5" height="48" fill="#000" />
<rect x="1421" y="465" width="3" height="46" fill="#fff" />
<rect x="1430" y="453" width="1" height="39" fill="#000" />
<rect x="1428" y="463" width="5" height="29" fill="#000" />
<rect x="1438" y="473" width="1" height="22" fill="#000" />
<rect x="1436" y="485" width="5" height="2" fill="#000" />
<rect x="1446" y="482" width="1" height="34" fill="#000" />
<rect x="1444" y="482" width="5" height="29" fill="#000" />
</g>
</g>
<g shape-rendering="crispEdges">
<rect x="1346" y="482" width="124" height="15" fill="#00ff00" />
<rect x="1479" y="490" width="110" height="2" fill="#fff" />
<rect x="1479" y="491" width="8" height="1" fill="#ff0000" />
<rect x="1486" y="489" width="3" height="4" fill="#ff0000" />
<rect x="1487" y="490" width="1" height="2" fill="#fff" />
<rect x="1489.5" y="475.5" width="99" height="32" fill="#fff" stroke="#ff0000" stroke-width="1"/>
</g>
<text x="1491.3" y="501.8" font-size="27.5" fill="#ff0000" textLength="95.5" lengthAdjust="spacingAndGlyphs" >1.21000</text>
<text x="1383.5" y="432.5" font-size="29.5" font-weight="500" font-family='"Liberation Serif", "Noto Serif CJK SC", serif' fill="#063006" textLength="160" lengthAdjust="spacingAndGlyphs" transform="translate(1,1)">多空转折点</text>
<text x="1383.5" y="432.5" font-size="29.5" font-weight="500" font-family='"Liberation Serif", "Noto Serif CJK SC", serif' fill="#00f400" textLength="160" lengthAdjust="spacingAndGlyphs">多空转折点</text>
<polygon points="1457,31 1467,31 1462,36" fill="#c0c0c0"/>
<g shape-rendering="crispEdges">
<rect x="1627" y="51" width="2" height="1" fill="#000" />
<rect x="1627" y="84" width="2" height="1" fill="#000" />
<rect x="1627" y="117" width="2" height="1" fill="#000" />
<rect x="1627" y="150" width="2" height="1" fill="#000" />
<rect x="1627" y="183" width="2" height="1" fill="#000" />
<rect x="1627" y="216" width="2" height="1" fill="#000" />
<rect x="1627" y="249" width="2" height="1" fill="#000" />
<rect x="1627" y="282" width="2" height="1" fill="#000" />
<rect x="1627" y="315" width="2" height="1" fill="#000" />
<rect x="1627" y="348" width="2" height="1" fill="#000" />
<rect x="1627" y="381" width="2" height="1" fill="#000" />
<rect x="1627" y="414" width="2" height="1" fill="#000" />
<rect x="1627" y="480" width="2" height="1" fill="#000" />
<rect x="1627" y="546" width="2" height="1" fill="#000" />
<rect x="1627" y="579" width="2" height="1" fill="#000" />
</g>
<text x="1632" y="55" font-size="9" fill="#000" textLength="33" lengthAdjust="spacingAndGlyphs" stroke="#000" stroke-width="0.25" >1.25930</text>
<text x="1632" y="88" font-size="9" fill="#000" textLength="33" lengthAdjust="spacingAndGlyphs" stroke="#000" stroke-width="0.25" >1.25560</text>
<text x="1632" y="121" font-size="9" fill="#000" textLength="33" lengthAdjust="spacingAndGlyphs" stroke="#000" stroke-width="0.25" >1.25190</text>
<text x="1632" y="154" font-size="9" fill="#000" textLength="33" lengthAdjust="spacingAndGlyphs" stroke="#000" stroke-width="0.25" >1.24820</text>
<text x="1632" y="187" font-size="9" fill="#000" textLength="33" lengthAdjust="spacingAndGlyphs" stroke="#000" stroke-width="0.25" >1.24450</text>
<text x="1632" y="220" font-size="9" fill="#000" textLength="33" lengthAdjust="spacingAndGlyphs" stroke="#000" stroke-width="0.25" >1.24080</text>
<text x="1632" y="253" font-size="9" fill="#000" textLength="33" lengthAdjust="spacingAndGlyphs" stroke="#000" stroke-width="0.25" >1.23710</text>
<text x="1632" y="286" font-size="9" fill="#000" textLength="33" lengthAdjust="spacingAndGlyphs" stroke="#000" stroke-width="0.25" >1.23340</text>
<text x="1632" y="319" font-size="9" fill="#000" textLength="33" lengthAdjust="spacingAndGlyphs" stroke="#000" stroke-width="0.25" >1.22970</text>
<text x="1632" y="352" font-size="9" fill="#000" textLength="33" lengthAdjust="spacingAndGlyphs" stroke="#000" stroke-width="0.25" >1.22600</text>
<text x="1632" y="385" font-size="9" fill="#000" textLength="33" lengthAdjust="spacingAndGlyphs" stroke="#000" stroke-width="0.25" >1.22230</text>
<text x="1632" y="418" font-size="9" fill="#000" textLength="33" lengthAdjust="spacingAndGlyphs" stroke="#000" stroke-width="0.25" >1.21870</text>
<text x="1632" y="484" font-size="9" fill="#000" textLength="33" lengthAdjust="spacingAndGlyphs" stroke="#000" stroke-width="0.25" >1.21130</text>
<text x="1632" y="550" font-size="9" fill="#000" textLength="33" lengthAdjust="spacingAndGlyphs" stroke="#000" stroke-width="0.25" >1.20390</text>
<text x="1632" y="583" font-size="9" fill="#000" textLength="33" lengthAdjust="spacingAndGlyphs" stroke="#000" stroke-width="0.25" >1.20020</text>
<text x="1632" y="517" font-size="9" fill="#000" textLength="33" lengthAdjust="spacingAndGlyphs" stroke="#000" stroke-width="0.25" >1.20760</text>
<rect x="1628" y="444" width="41" height="11" fill="#ff4500" shape-rendering="crispEdges"/>
<text x="1632" y="453" font-size="9" fill="#fff" textLength="32.5" lengthAdjust="spacingAndGlyphs" stroke="#fff" stroke-width="0.25" >1.21459</text>
<rect x="1628" y="464" width="41" height="11" fill="#ff4500" shape-rendering="crispEdges"/>
<text x="1632" y="473" font-size="9" fill="#fff" textLength="32.5" lengthAdjust="spacingAndGlyphs" stroke="#fff" stroke-width="0.25" >1.21242</text>
<rect x="1628" y="485" width="41" height="11" fill="#32cd32" shape-rendering="crispEdges"/>
<text x="1632" y="494" font-size="9" fill="#fff" textLength="32.5" lengthAdjust="spacingAndGlyphs" stroke="#fff" stroke-width="0.25" >1.21000</text>
<rect x="1628" y="505" width="41" height="11" fill="#000" shape-rendering="crispEdges"/>
<text x="1632" y="514" font-size="9" fill="#fff" textLength="32.5" lengthAdjust="spacingAndGlyphs" stroke="#fff" stroke-width="0.25" >1.20795</text>
<rect x="1628" y="532" width="41" height="11" fill="#0000ff" shape-rendering="crispEdges"/>
<text x="1632" y="541" font-size="9" fill="#fff" textLength="32.5" lengthAdjust="spacingAndGlyphs" stroke="#fff" stroke-width="0.25" >1.20480</text>
<rect x="1628" y="560" width="41" height="11" fill="#0000ff" shape-rendering="crispEdges"/>
<text x="1632" y="569" font-size="9" fill="#fff" textLength="32.5" lengthAdjust="spacingAndGlyphs" stroke="#fff" stroke-width="0.25" >1.20162</text>
<polygon points="1,40 8,40 4.5,36" fill="#000"/>
<text y="40.9" font-size="9" fill="#000" stroke="#000" stroke-width="0.25"><tspan x="13.2" textLength="56" lengthAdjust="spacingAndGlyphs">GBPUSD-,H4</tspan><tspan x="75.9" textLength="32.6" lengthAdjust="spacingAndGlyphs">1.21102</tspan><tspan x="111.8" textLength="32.6" lengthAdjust="spacingAndGlyphs">1.21102</tspan><tspan x="147.5" textLength="32.9" lengthAdjust="spacingAndGlyphs">1.20734</tspan><tspan x="183.5" textLength="33.2" lengthAdjust="spacingAndGlyphs">1.20795</tspan></text>
<g shape-rendering="crispEdges">
<rect x="6" y="614" width="1" height="39" fill="#c0c0c0" />
<rect x="14" y="614" width="1" height="38" fill="#c0c0c0" />
<rect x="22" y="614" width="1" height="37" fill="#c0c0c0" />
<rect x="30" y="614" width="1" height="40" fill="#c0c0c0" />
<rect x="38" y="614" width="1" height="46" fill="#c0c0c0" />
<rect x="46" y="614" width="1" height="48" fill="#c0c0c0" />
<rect x="54" y="614" width="1" height="50" fill="#c0c0c0" />
<rect x="62" y="614" width="1" height="51" fill="#c0c0c0" />
<rect x="70" y="614" width="1" height="52" fill="#c0c0c0" />
<rect x="78" y="614" width="1" height="53" fill="#c0c0c0" />
<rect x="86" y="614" width="1" height="54" fill="#c0c0c0" />
<rect x="94" y="614" width="1" height="53" fill="#c0c0c0" />
<rect x="102" y="614" width="1" height="51" fill="#c0c0c0" />
<rect x="110" y="614" width="1" height="52" fill="#c0c0c0" />
<rect x="118" y="614" width="1" height="54" fill="#c0c0c0" />
<rect x="126" y="614" width="1" height="58" fill="#c0c0c0" />
<rect x="134" y="614" width="1" height="61" fill="#c0c0c0" />
<rect x="142" y="614" width="1" height="62" fill="#c0c0c0" />
<rect x="150" y="614" width="1" height="63" fill="#c0c0c0" />
<rect x="158" y="614" width="1" height="62" fill="#c0c0c0" />
<rect x="166" y="614" width="1" height="61" fill="#c0c0c0" />
<rect x="174" y="614" width="1" height="58" fill="#c0c0c0" />
<rect x="182" y="614" width="1" height="51" fill="#c0c0c0" />
<rect x="190" y="614" width="1" height="44" fill="#c0c0c0" />
<rect x="198" y="614" width="1" height="38" fill="#c0c0c0" />
<rect x="206" y="614" width="1" height="29" fill="#c0c0c0" />
<rect x="214" y="614" width="1" height="21" fill="#c0c0c0" />
<rect x="222" y="614" width="1" height="12" fill="#c0c0c0" />
<rect x="230" y="614" width="1" height="5" fill="#c0c0c0" />
<rect x="238" y="614" width="1" height="4" fill="#c0c0c0" />
<rect x="246" y="614" width="1" height="3" fill="#c0c0c0" />
<rect x="254" y="614" width="1" height="1" fill="#c0c0c0" />
<rect x="262" y="613" width="1" height="1" fill="#c0c0c0" />
<rect x="270" y="612" width="1" height="2" fill="#c0c0c0" />
<rect x="278" y="607" width="1" height="7" fill="#c0c0c0" />
<rect x="286" y="602" width="1" height="12" fill="#c0c0c0" />
<rect x="294" y="598" width="1" height="16" fill="#c0c0c0" />
<rect x="302" y="596" width="1" height="18" fill="#c0c0c0" />
<rect x="310" y="595" width="1" height="19" fill="#c0c0c0" />
<rect x="318" y="598" width="1" height="16" fill="#c0c0c0" />
<rect x="326" y="602" width="1" height="12" fill="#c0c0c0" />
<rect x="334" y="607" width="1" height="7" fill="#c0c0c0" />
<rect x="342" y="611" width="1" height="3" fill="#c0c0c0" />
<rect x="350" y="614" width="1" height="1" fill="#c0c0c0" />
<rect x="358" y="614" width="1" height="8" fill="#c0c0c0" />
<rect x="366" y="614" width="1" height="21" fill="#c0c0c0" />
<rect x="374" y="614" width="1" height="34" fill="#c0c0c0" />
<rect x="382" y="614" width="1" height="44" fill="#c0c0c0" />
<rect x="390" y="614" width="1" height="50" fill="#c0c0c0" />
<rect x="398" y="614" width="1" height="54" fill="#c0c0c0" />
<rect x="406" y="614" width="1" height="58" fill="#c0c0c0" />
<rect x="414" y="614" width="1" height="59" fill="#c0c0c0" />
<rect x="422" y="614" width="1" height="56" fill="#c0c0c0" />
<rect x="430" y="614" width="1" height="53" fill="#c0c0c0" />
<rect x="438" y="614" width="1" height="50" fill="#c0c0c0" />
<rect x="446" y="614" width="1" height="48" fill="#c0c0c0" />
<rect x="454" y="614" width="1" height="41" fill="#c0c0c0" />
<rect x="462" y="614" width="1" height="32" fill="#c0c0c0" />
<rect x="470" y="614" width="1" height="23" fill="#c0c0c0" />
<rect x="478" y="614" width="1" height="8" fill="#c0c0c0" />
<rect x="486" y="612" width="1" height="2" fill="#c0c0c0" />
<rect x="494" y="603" width="1" height="11" fill="#c0c0c0" />
<rect x="502" y="599" width="1" height="15" fill="#c0c0c0" />
<rect x="510" y="595" width="1" height="19" fill="#c0c0c0" />
<rect x="518" y="596" width="1" height="18" fill="#c0c0c0" />
<rect x="526" y="599" width="1" height="15" fill="#c0c0c0" />
<rect x="534" y="599" width="1" height="15" fill="#c0c0c0" />
<rect x="542" y="604" width="1" height="10" fill="#c0c0c0" />
<rect x="550" y="612" width="1" height="2" fill="#c0c0c0" />
<rect x="558" y="614" width="1" height="1" fill="#c0c0c0" />
<rect x="566" y="614" width="1" height="1" fill="#c0c0c0" />
<rect x="574" y="614" width="1" height="4" fill="#c0c0c0" />
<rect x="582" y="614" width="1" height="7" fill="#c0c0c0" />
<rect x="590" y="614" width="1" height="13" fill="#c0c0c0" />
<rect x="598" y="614" width="1" height="14" fill="#c0c0c0" />
<rect x="606" y="614" width="1" height="17" fill="#c0c0c0" />
<rect x="614" y="614" width="1" height="20" fill="#c0c0c0" />
<rect x="622" y="614" width="1" height="23" fill="#c0c0c0" />
<rect x="630" y="614" width="1" height="24" fill="#c0c0c0" />
<rect x="638" y="614" width="1" height="25" fill="#c0c0c0" />
<rect x="646" y="614" width="1" height="17" fill="#c0c0c0" />
<rect x="654" y="614" width="1" height="11" fill="#c0c0c0" />
<rect x="662" y="614" width="1" height="6" fill="#c0c0c0" />
<rect x="670" y="614" width="1" height="4" fill="#c0c0c0" />
<rect x="678" y="614" width="1" height="3" fill="#c0c0c0" />
<rect x="686" y="614" width="1" height="3" fill="#c0c0c0" />
<rect x="694" y="614" width="1" height="1" fill="#c0c0c0" />
<rect x="702" y="614" width="1" height="1" fill="#c0c0c0" />
<rect x="710" y="614" width="1" height="4" fill="#c0c0c0" />
<rect x="718" y="614" width="1" height="8" fill="#c0c0c0" />
<rect x="726" y="614" width="1" height="14" fill="#c0c0c0" />
<rect x="734" y="614" width="1" height="16" fill="#c0c0c0" />
<rect x="742" y="614" width="1" height="25" fill="#c0c0c0" />
<rect x="750" y="614" width="1" height="31" fill="#c0c0c0" />
<rect x="758" y="614" width="1" height="38" fill="#c0c0c0" />
<rect x="766" y="614" width="1" height="44" fill="#c0c0c0" />
<rect x="774" y="614" width="1" height="52" fill="#c0c0c0" />
<rect x="782" y="614" width="1" height="63" fill="#c0c0c0" />
<rect x="790" y="614" width="1" height="80" fill="#c0c0c0" />
<rect x="798" y="614" width="1" height="94" fill="#c0c0c0" />
<rect x="806" y="614" width="1" height="104" fill="#c0c0c0" />
<rect x="814" y="614" width="1" height="121" fill="#c0c0c0" />
<rect x="822" y="614" width="1" height="131" fill="#c0c0c0" />
<rect x="830" y="614" width="1" height="135" fill="#c0c0c0" />
<rect x="838" y="614" width="1" height="142" fill="#c0c0c0" />
<rect x="846" y="614" width="1" height="144" fill="#c0c0c0" />
<rect x="854" y="614" width="1" height="144" fill="#c0c0c0" />
<rect x="862" y="614" width="1" height="143" fill="#c0c0c0" />
<rect x="870" y="614" width="1" height="139" fill="#c0c0c0" />
<rect x="878" y="614" width="1" height="132" fill="#c0c0c0" />
<rect x="886" y="614" width="1" height="120" fill="#c0c0c0" />
<rect x="894" y="614" width="1" height="116" fill="#c0c0c0" />
<rect x="902" y="614" width="1" height="114" fill="#c0c0c0" />
<rect x="910" y="614" width="1" height="114" fill="#c0c0c0" />
<rect x="918" y="614" width="1" height="116" fill="#c0c0c0" />
<rect x="926" y="614" width="1" height="115" fill="#c0c0c0" />
<rect x="934" y="614" width="1" height="114" fill="#c0c0c0" />
<rect x="942" y="614" width="1" height="114" fill="#c0c0c0" />
<rect x="950" y="614" width="1" height="109" fill="#c0c0c0" />
<rect x="958" y="614" width="1" height="102" fill="#c0c0c0" />
<rect x="966" y="614" width="1" height="100" fill="#c0c0c0" />
<rect x="974" y="614" width="1" height="100" fill="#c0c0c0" />
<rect x="982" y="614" width="1" height="94" fill="#c0c0c0" />
<rect x="990" y="614" width="1" height="89" fill="#c0c0c0" />
<rect x="998" y="614" width="1" height="84" fill="#c0c0c0" />
<rect x="1006" y="614" width="1" height="74" fill="#c0c0c0" />
<rect x="1014" y="614" width="1" height="68" fill="#c0c0c0" />
<rect x="1022" y="614" width="1" height="62" fill="#c0c0c0" />
<rect x="1030" y="614" width="1" height="62" fill="#c0c0c0" />
<rect x="1038" y="614" width="1" height="54" fill="#c0c0c0" />
<rect x="1046" y="614" width="1" height="46" fill="#c0c0c0" />
<rect x="1054" y="614" width="1" height="44" fill="#c0c0c0" />
<rect x="1062" y="614" width="1" height="39" fill="#c0c0c0" />
<rect x="1070" y="614" width="1" height="34" fill="#c0c0c0" />
<rect x="1078" y="614" width="1" height="27" fill="#c0c0c0" />
<rect x="1086" y="614" width="1" height="21" fill="#c0c0c0" />
<rect x="1094" y="614" width="1" height="20" fill="#c0c0c0" />
<rect x="1102" y="614" width="1" height="19" fill="#c0c0c0" />
<rect x="1110" y="614" width="1" height="17" fill="#c0c0c0" />
<rect x="1118" y="614" width="1" height="15" fill="#c0c0c0" />
<rect x="1126" y="614" width="1" height="14" fill="#c0c0c0" />
<rect x="1134" y="614" width="1" height="14" fill="#c0c0c0" />
<rect x="1142" y="614" width="1" height="13" fill="#c0c0c0" />
<rect x="1150" y="614" width="1" height="13" fill="#c0c0c0" />
<rect x="1158" y="614" width="1" height="12" fill="#c0c0c0" />
<rect x="1166" y="614" width="1" height="11" fill="#c0c0c0" />
<rect x="1174" y="614" width="1" height="9" fill="#c0c0c0" />
<rect x="1182" y="614" width="1" height="10" fill="#c0c0c0" />
<rect x="1190" y="614" width="1" height="12" fill="#c0c0c0" />
<rect x="1198" y="614" width="1" height="12" fill="#c0c0c0" />
<rect x="1206" y="614" width="1" height="13" fill="#c0c0c0" />
<rect x="1214" y="614" width="1" height="13" fill="#c0c0c0" />
<rect x="1222" y="614" width="1" height="14" fill="#c0c0c0" />
<rect x="1230" y="614" width="1" height="24" fill="#c0c0c0" />
<rect x="1238" y="614" width="1" height="30" fill="#c0c0c0" />
<rect x="1246" y="614" width="1" height="38" fill="#c0c0c0" />
<rect x="1254" y="614" width="1" height="48" fill="#c0c0c0" />
<rect x="1262" y="614" width="1" height="54" fill="#c0c0c0" />
<rect x="1270" y="614" width="1" height="53" fill="#c0c0c0" />
<rect x="1278" y="614" width="1" height="51" fill="#c0c0c0" />
<rect x="1286" y="614" width="1" height="48" fill="#c0c0c0" />
<rect x="1294" y="614" width="1" height="46" fill="#c0c0c0" />
<rect x="1302" y="614" width="1" height="44" fill="#c0c0c0" />
<rect x="1310" y="614" width="1" height="43" fill="#c0c0c0" />
<rect x="1318" y="614" width="1" height="43" fill="#c0c0c0" />
<rect x="1326" y="614" width="1" height="41" fill="#c0c0c0" />
<rect x="1334" y="614" width="1" height="38" fill="#c0c0c0" />
<rect x="1342" y="614" width="1" height="38" fill="#c0c0c0" />
<rect x="1350" y="614" width="1" height="37" fill="#c0c0c0" />
<rect x="1358" y="614" width="1" height="36" fill="#c0c0c0" />
<rect x="1366" y="614" width="1" height="34" fill="#c0c0c0" />
<rect x="1374" y="614" width="1" height="32" fill="#c0c0c0" />
<rect x="1382" y="614" width="1" height="31" fill="#c0c0c0" />
<rect x="1390" y="614" width="1" height="30" fill="#c0c0c0" />
<rect x="1398" y="614" width="1" height="28" fill="#c0c0c0" />
<rect x="1406" y="614" width="1" height="27" fill="#c0c0c0" />
<rect x="1414" y="614" width="1" height="24" fill="#c0c0c0" />
<rect x="1422" y="614" width="1" height="10" fill="#c0c0c0" />
<rect x="1430" y="614" width="1" height="6" fill="#c0c0c0" />
<rect x="1438" y="614" width="1" height="2" fill="#c0c0c0" />
<rect x="1446" y="614" width="1" height="1" fill="#c0c0c0" />
</g>
<polyline fill="none" stroke="#ff0000" stroke-width="1" shape-rendering="crispEdges" stroke-dasharray="3,3" points="0,661.9 14.3,659.6 28.7,657.6 43,657.3 57.4,657.6 74.6,659.6 91.8,663.9 114.8,666.2 137.7,668.2 160.7,671.7 177.9,673.4 186.5,672.8 200.8,669.7 212.3,664.5 223.8,656.8 235.3,646.7 246.7,636.7 258.2,628 269.7,621.8 281.2,616 292.6,611.4 304,608 315.6,603.7 327,601.7 344.3,601.4 355.8,603.7 367.2,608.6 378.7,616.6 390.2,627.5 401.7,639.6 413,650.2 424.6,659 436,664.8 447.6,667.4 459,666.2 470,661 481.5,652.5 493,642.4 504.4,632.4 515.9,620.9 527.4,612.3 538.9,603.7 550.3,600.8 561.8,600.8 573.3,603 584.8,607.4 596.2,610.9 607.7,616.6 619.2,620 630.7,625.2 642,629.5 653.6,631.8 670.8,632.4 682.3,630.4 693.8,627.5 705.3,623.8 716.7,620.9 728.2,618.9 739.7,618.6 751.2,621.5 762.7,624.3 774,629.5 785.6,637.3 797,645.3 808.6,655.3 820,668.2 831.5,684 843,701.2 854.5,717 865.9,731.4 877.4,742.8 886,749.2 894.6,751.4 906,750 917.6,746.6 929,742.8 940,738.5 951.5,731.4 965.8,725.6 983,721.3 997.4,715.6 1011.7,707 1026,697 1037.6,691.2 1049,682.6 1060.5,674 1072,666.8 1083.5,659 1095,653 1106.4,645.3 1117.9,639.6 1129.4,635.3 1140.8,631.5 1158,630 1175.3,628 1192.5,627.5 1209.7,627.5 1226.9,628 1244,631.5 1255.6,638 1267,645.3 1278.6,651 1290,656.8 1301.5,660.2 1313,661.9 1327.3,661 1341.7,657.3 1353,654.8 1364.6,653 1376,650.5 1389.4,647 1399,645.5 1410,644 1426.4,638.8 1438.7,634.7 1446,631"/>
<text y="597.2" font-size="9" fill="#000" stroke="#000" stroke-width="0.25"><tspan x="2.3" textLength="65.7" lengthAdjust="spacingAndGlyphs">MACD(12,26,9)</tspan><tspan x="71" textLength="40.3" lengthAdjust="spacingAndGlyphs">-0.000082</tspan><tspan x="114.6" textLength="41.2" lengthAdjust="spacingAndGlyphs">-0.000943</tspan></text>
<text x="1630" y="594.5" font-size="9" fill="#000" textLength="38" lengthAdjust="spacingAndGlyphs" stroke="#000" stroke-width="0.25" >0.001607</text>
<text x="1630" y="617.5" font-size="9" fill="#000" textLength="19" lengthAdjust="spacingAndGlyphs" stroke="#000" stroke-width="0.25" >0.00</text>
<text x="1630" y="764" font-size="9" fill="#000" textLength="41" lengthAdjust="spacingAndGlyphs" stroke="#000" stroke-width="0.25" >-0.008522</text>
<line x1="0" y1="802.5" x2="1626" y2="802.5" stroke="#c0c0c0" stroke-width="1" stroke-dasharray="3,3" shape-rendering="crispEdges"/>
<line x1="0" y1="849.5" x2="1626" y2="849.5" stroke="#c0c0c0" stroke-width="1" stroke-dasharray="3,3" shape-rendering="crispEdges"/>
<line x1="0" y1="905.5" x2="1626" y2="905.5" stroke="#c0c0c0" stroke-width="1" stroke-dasharray="3,3" shape-rendering="crispEdges"/>
<polyline fill="none" stroke="#1e90ff" stroke-width="1" shape-rendering="crispEdges"  points="0,875.461 6,871.695 14,872.449 22,881.235 30,885.503 38,898.558 46,882.993 54,882.993 62,884.248 70,881.988 78,886.005 86,889.269 94,882.993 102,878.474 110,879.98 118,889.269 126,896.298 134,889.269 142,889.269 150,890.022 158,892.281 166,886.758 174,875.461 182,853.369 190,854.373 198,852.867 206,839.059 214,837.302 222,830.273 230,833.536 238,845.837 246,850.356 254,839.059 262,843.327 270,844.582 278,836.549 286,829.519 294,829.268 302,830.273 310,835.293 318,847.846 326,857.135 334,859.143 342,859.394 350,859.896 358,877.972 366,888.014 374,892.03 382,892.532 390,890.022 398,886.256 406,889.269 414,882.993 422,869.185 430,869.185 438,869.185 446,867.177 454,851.612 462,841.068 470,839.059 478,820.231 486,826.005 494,825.252 502,834.038 510,831.528 518,847.846 526,847.846 534,843.327 542,846.591 550,854.875 558,862.909 566,855.879 574,854.373 582,857.135 590,860.9 598,867.177 606,859.394 614,862.909 622,866.172 630,866.172 638,869.436 646,860.9 654,839.31 662,839.31 670,845.335 678,844.331 686,850.356 694,847.093 702,844.331 710,852.365 718,860.398 726,859.394 734,862.407 742,869.185 750,866.172 758,879.98 766,881.486 774,883.495 782,887.26 790,893.537 798,899.813 806,906.089 814,907.344 822,907.344 830,912.616 838,909.353 846,903.328 854,905.587 862,900.566 870,900.566 878,901.821 886,894.29 894,888.014 902,867.428 910,879.227 918,881.235 926,886.256 934,888.516 942,885.503 950,874.457 958,871.444 966,877.219 974,883.244 982,868.432 990,869.436 998,867.177 1006,858.39 1014,860.147 1022,861.151 1030,870.44 1038,853.369 1046,853.369 1054,858.39 1062,854.373 1070,852.365 1078,845.335 1086,848.348 1094,856.382 1102,852.365 1110,849.854 1118,853.369 1126,852.365 1134,858.139 1142,853.62 1150,858.139 1158,859.645 1166,848.097 1174,846.34 1182,857.135 1190,859.394 1198,857.637 1206,856.382 1214,857.888 1222,860.9 1230,877.972 1238,873.453 1246,880.482 1254,887.511 1262,880.482 1270,867.93 1278,861.151 1286,864.415 1294,862.407 1302,861.402 1310,865.419 1318,865.419 1326,856.633 1334,862.407 1342,865.419 1350,862.407 1358,865.419 1366,861.402 1374,858.39 1382,859.896 1390,865.419 1398,860.398 1406,863.411 1414,850.356 1422,830.273 1430,840.314 1438,839.31 1446,851.612"/>
<text y="782" font-size="9" fill="#000" stroke="#000" stroke-width="0.25"><tspan x="2.4" textLength="30.2" lengthAdjust="spacingAndGlyphs">RSI(14)</tspan><tspan x="37" textLength="32.8" lengthAdjust="spacingAndGlyphs">48.5813</tspan></text>
<text x="1630" y="780" font-size="9" fill="#000" stroke="#000" stroke-width="0.25" >100</text>
<text x="1630" y="806" font-size="9" fill="#000" stroke="#000" stroke-width="0.25" >80</text>
<text x="1630" y="853" font-size="9" fill="#000" stroke="#000" stroke-width="0.25" >50</text>
<text x="1630" y="909" font-size="9" fill="#000" stroke="#000" stroke-width="0.25" >15</text>
<text x="1630" y="926" font-size="9" fill="#000" stroke="#000" stroke-width="0.25" >0</text>
<g shape-rendering="crispEdges">
<rect x="62" y="930" width="1" height="3" fill="#000" />
<rect x="126" y="930" width="1" height="3" fill="#000" />
<rect x="190" y="930" width="1" height="3" fill="#000" />
<rect x="254" y="930" width="1" height="3" fill="#000" />
<rect x="318" y="930" width="1" height="3" fill="#000" />
<rect x="382" y="930" width="1" height="3" fill="#000" />
<rect x="446" y="930" width="1" height="3" fill="#000" />
<rect x="510" y="930" width="1" height="3" fill="#000" />
<rect x="574" y="930" width="1" height="3" fill="#000" />
<rect x="638" y="930" width="1" height="3" fill="#000" />
<rect x="702" y="930" width="1" height="3" fill="#000" />
<rect x="766" y="930" width="1" height="3" fill="#000" />
<rect x="830" y="930" width="1" height="3" fill="#000" />
<rect x="894" y="930" width="1" height="3" fill="#000" />
<rect x="958" y="930" width="1" height="3" fill="#000" />
<rect x="1022" y="930" width="1" height="3" fill="#000" />
<rect x="1086" y="930" width="1" height="3" fill="#000" />
<rect x="1150" y="930" width="1" height="3" fill="#000" />
<rect x="1214" y="930" width="1" height="3" fill="#000" />
<rect x="1278" y="930" width="1" height="3" fill="#000" />
<rect x="1342" y="930" width="1" height="3" fill="#000" />
<rect x="1406" y="930" width="1" height="3" fill="#000" />
</g>
<text x="-3" y="942" font-size="9" fill="#000" textLength="42" lengthAdjust="spacingAndGlyphs" stroke="#000" stroke-width="0.25" >4 Jul 2019</text>
<text x="61" y="942" font-size="9" fill="#000" textLength="44" lengthAdjust="spacingAndGlyphs" stroke="#000" stroke-width="0.25" >8 Jul 00:00</text>
<text x="125" y="942" font-size="9" fill="#000" textLength="44" lengthAdjust="spacingAndGlyphs" stroke="#000" stroke-width="0.25" >9 Jul 08:00</text>
<text x="189" y="942" font-size="9" fill="#000" textLength="49" lengthAdjust="spacingAndGlyphs" stroke="#000" stroke-width="0.25" >10 Jul 16:00</text>
<text x="253" y="942" font-size="9" fill="#000" textLength="49" lengthAdjust="spacingAndGlyphs" stroke="#000" stroke-width="0.25" >12 Jul 00:00</text>
<text x="317" y="942" font-size="9" fill="#000" textLength="49" lengthAdjust="spacingAndGlyphs" stroke="#000" stroke-width="0.25" >15 Jul 08:00</text>
<text x="381" y="942" font-size="9" fill="#000" textLength="49" lengthAdjust="spacingAndGlyphs" stroke="#000" stroke-width="0.25" >16 Jul 16:00</text>
<text x="445" y="942" font-size="9" fill="#000" textLength="49" lengthAdjust="spacingAndGlyphs" stroke="#000" stroke-width="0.25" >18 Jul 00:00</text>
<text x="509" y="942" font-size="9" fill="#000" textLength="49" lengthAdjust="spacingAndGlyphs" stroke="#000" stroke-width="0.25" >19 Jul 08:00</text>
<text x="573" y="942" font-size="9" fill="#000" textLength="49" lengthAdjust="spacingAndGlyphs" stroke="#000" stroke-width="0.25" >22 Jul 16:00</text>
<text x="637" y="942" font-size="9" fill="#000" textLength="49" lengthAdjust="spacingAndGlyphs" stroke="#000" stroke-width="0.25" >24 Jul 00:00</text>
<text x="701" y="942" font-size="9" fill="#000" textLength="49" lengthAdjust="spacingAndGlyphs" stroke="#000" stroke-width="0.25" >25 Jul 08:00</text>
<text x="765" y="942" font-size="9" fill="#000" textLength="49" lengthAdjust="spacingAndGlyphs" stroke="#000" stroke-width="0.25" >26 Jul 16:00</text>
<text x="829" y="942" font-size="9" fill="#000" textLength="49" lengthAdjust="spacingAndGlyphs" stroke="#000" stroke-width="0.25" >30 Jul 00:00</text>
<text x="893" y="942" font-size="9" fill="#000" textLength="49" lengthAdjust="spacingAndGlyphs" stroke="#000" stroke-width="0.25" >31 Jul 08:00</text>
<text x="957" y="942" font-size="9" fill="#000" textLength="50.2" lengthAdjust="spacingAndGlyphs" stroke="#000" stroke-width="0.25" >1 Aug 16:00</text>
<text x="1021" y="942" font-size="9" fill="#000" textLength="50.2" lengthAdjust="spacingAndGlyphs" stroke="#000" stroke-width="0.25" >5 Aug 00:00</text>
<text x="1085" y="942" font-size="9" fill="#000" textLength="50.2" lengthAdjust="spacingAndGlyphs" stroke="#000" stroke-width="0.25" >6 Aug 08:00</text>
<text x="1149" y="942" font-size="9" fill="#000" textLength="50.2" lengthAdjust="spacingAndGlyphs" stroke="#000" stroke-width="0.25" >7 Aug 16:00</text>
<text x="1213" y="942" font-size="9" fill="#000" textLength="50.2" lengthAdjust="spacingAndGlyphs" stroke="#000" stroke-width="0.25" >9 Aug 00:00</text>
<text x="1277" y="942" font-size="9" fill="#000" textLength="55" lengthAdjust="spacingAndGlyphs" stroke="#000" stroke-width="0.25" >12 Aug 08:00</text>
<text x="1341" y="942" font-size="9" fill="#000" textLength="55" lengthAdjust="spacingAndGlyphs" stroke="#000" stroke-width="0.25" >13 Aug 16:00</text>
<text x="1405" y="942" font-size="9" fill="#000" textLength="55" lengthAdjust="spacingAndGlyphs" stroke="#000" stroke-width="0.25" >15 Aug 00:00</text>
<g font-family='"Liberation Sans", "DejaVu Sans", sans-serif'>
<g shape-rendering="crispEdges">
<rect x="0" y="113" width="222" height="2" fill="#fff"/><rect x="0" y="47" width="222" height="2" fill="#fff"/><rect x="0" y="47" width="1" height="66" fill="#fff"/>
<rect x="1" y="49" width="219" height="25" fill="#fcfcfc"/>
<rect x="1" y="49" width="52" height="25" fill="#c81818"/><rect x="2" y="50" width="50" height="24" fill="url(#gT)"/>
<rect x="169" y="49" width="51" height="25" fill="#c81818"/><rect x="170" y="50" width="49" height="24" fill="url(#gT)"/>
<rect x="220" y="49" width="2" height="64" fill="#fff"/>
<rect x="1" y="73" width="109" height="39.6" fill="#c01010"/><rect x="2" y="74" width="107" height="38.6" fill="url(#gB)"/><rect x="2" y="50" width="50" height="30" fill="url(#gT2)"/>
<rect x="112" y="73" width="108" height="39.6" fill="#c01010"/><rect x="113" y="74" width="106" height="38.6" fill="url(#gB)"/><rect x="170" y="50" width="49" height="30" fill="url(#gT2)"/>
<rect x="110" y="73" width="2" height="40" fill="#f4dede"/>
<rect x="5" y="72" width="44" height="1" fill="#a01414"/><rect x="5" y="73" width="44" height="1" fill="#f07070"/>
<rect x="172" y="72" width="44" height="1" fill="#a01414"/><rect x="172" y="73" width="44" height="1" fill="#f07070"/>
<rect x="53" y="49" width="116" height="24" fill="#fcfcfc"/>
<rect x="55.5" y="49.5" width="110" height="21" fill="#fff" stroke="#a8a8a8" stroke-width="1"/>
<rect x="56" y="50" width="20" height="20" fill="#e6e6e6"/><rect x="76" y="50" width="1" height="20" fill="#b0b0b0"/>
<rect x="145" y="50" width="20" height="20" fill="#e6e6e6"/><rect x="144" y="50" width="1" height="20" fill="#b0b0b0"/>
</g>
<polygon points="63,58 69,58 66,61" fill="#000"/><polygon points="151,61 157,61 154,58" fill="#000"/>
<text x="141" y="64.5" font-size="12" fill="#222" text-anchor="end">1.00</text>
<text x="13" y="65" font-size="12" fill="#fff" textLength="27" lengthAdjust="spacingAndGlyphs">SELL</text>
<text x="181.5" y="65" font-size="12" fill="#fff" textLength="22.7" lengthAdjust="spacingAndGlyphs">BUY</text>
<text x="21.5" y="104" font-size="12" font-weight="700" fill="#fff" textLength="23.5" lengthAdjust="spacingAndGlyphs">1.20</text>
<text x="48" y="104.7" font-size="35.2" fill="#fff" textLength="35" lengthAdjust="spacingAndGlyphs">79</text>
<text x="87.6" y="87.8" font-size="11.5" font-weight="700" fill="#fff" textLength="7.2" lengthAdjust="spacingAndGlyphs">5</text>
<text x="131.5" y="104" font-size="12" font-weight="700" fill="#fff" textLength="23.5" lengthAdjust="spacingAndGlyphs">1.20</text>
<text x="159" y="104.7" font-size="35.2" fill="#fff" textLength="35" lengthAdjust="spacingAndGlyphs">93</text>
<text x="198.8" y="87.8" font-size="11.5" font-weight="700" fill="#fff" textLength="7.2" lengthAdjust="spacingAndGlyphs">6</text>
</g>
</svg>
</body></html>
